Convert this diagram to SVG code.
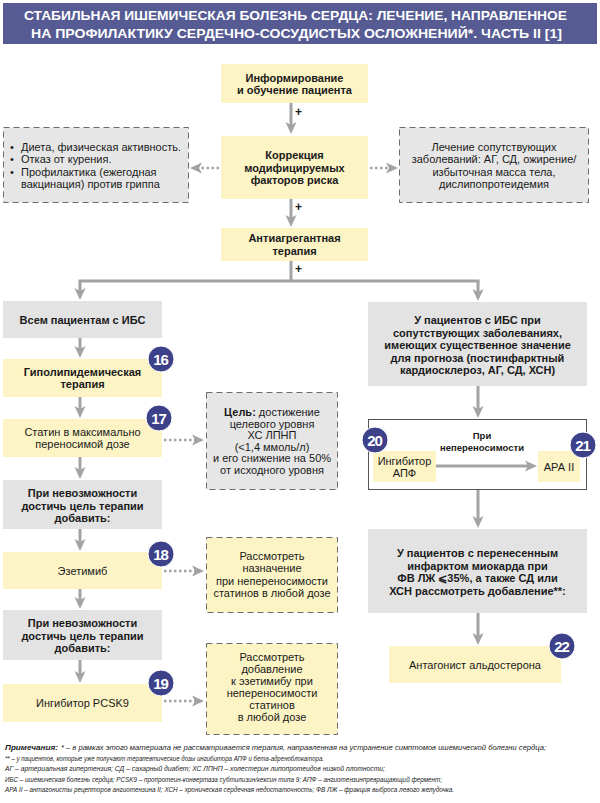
<svg xmlns="http://www.w3.org/2000/svg" width="600" height="803" viewBox="0 0 600 803">
<style>
text{font-family:"Liberation Sans",Arial,sans-serif;fill:#1a1a1a;}
.b{font-weight:bold;font-size:11px;text-anchor:middle;}
.r{font-size:11px;text-anchor:middle;}
.rl{font-size:11px;}
.y{fill:#fcf4c5;}
.g{fill:#e3e3e3;}
.dg{fill:#e6e6e6;stroke:#6b6b6b;stroke-width:1;stroke-dasharray:6 4;}
.dy{fill:#fcf4c5;stroke:#6b6b6b;stroke-width:1;stroke-dasharray:6 4;}
.ar{stroke:#a3a3a3;stroke-width:3;fill:none;marker-end:url(#ah);}
.ln{stroke:#a3a3a3;stroke-width:3;fill:none;}
.dt{stroke:#a3a3a3;stroke-width:2.5;fill:none;stroke-dasharray:2.5 2.5;marker-end:url(#ah);}
.pl{font-weight:bold;font-size:12px;}
.bc{fill:#3c418a;stroke:#ffffff;stroke-width:1;}
.bt{fill:#ffffff;font-weight:bold;font-size:15px;text-anchor:middle;letter-spacing:-1px;}
.n{font-size:8px;font-style:italic;}
</style>
<defs>
<marker id="ah" markerUnits="userSpaceOnUse" markerWidth="12" markerHeight="12" viewBox="0 0 12 12" refX="5" refY="6" orient="auto">
<path d="M0,0.5 L12,6 L0,11.5 L3,6 z" fill="#a3a3a3"/>
</marker>
</defs>
<g id="title">
<rect x="3" y="3" width="594" height="41" fill="#565b93"/>
<text x="295.5" y="20" font-size="13" font-weight="bold" text-anchor="middle" style="fill:#ffffff" textLength="543" lengthAdjust="spacingAndGlyphs">СТАБИЛЬНАЯ ИШЕМИЧЕСКАЯ БОЛЕЗНЬ СЕРДЦА: ЛЕЧЕНИЕ, НАПРАВЛЕННОЕ</text>
<text x="296.5" y="37.5" font-size="13" font-weight="bold" text-anchor="middle" style="fill:#ffffff" textLength="531" lengthAdjust="spacingAndGlyphs">НА ПРОФИЛАКТИКУ СЕРДЕЧНО-СОСУДИСТЫХ ОСЛОЖНЕНИЙ*. ЧАСТЬ II [1]</text>
</g>
<g id="n-frame">
<rect x="368.5" y="419.5" width="218" height="70" fill="#ffffff" stroke="#555555" stroke-width="1"/>
</g>
<g id="connectors">
<line class="ar" x1="291" y1="103" x2="291" y2="127"/>
<line class="ar" x1="291" y1="199" x2="291" y2="220"/>
<line class="ln" x1="291" y1="261" x2="291" y2="281"/>
<line class="ln" x1="78.5" y1="281" x2="479.5" y2="281"/>
<line class="ar" x1="80" y1="281" x2="80" y2="293"/>
<line class="ar" x1="478" y1="281" x2="478" y2="294"/>
<line class="ar" x1="80" y1="338" x2="80" y2="351"/>
<line class="ar" x1="80" y1="397" x2="80" y2="411"/>
<line class="ar" x1="80" y1="457" x2="80" y2="472"/>
<line class="ar" x1="80" y1="529" x2="80" y2="544"/>
<line class="ar" x1="80" y1="589" x2="80" y2="602"/>
<line class="ar" x1="80" y1="660" x2="80" y2="676"/>
<line class="ar" x1="478" y1="386" x2="478" y2="411"/>
<line class="ar" x1="478" y1="490" x2="478" y2="521"/>
<line class="ar" x1="478" y1="613" x2="478" y2="638"/>
<line class="ar" x1="436" y1="466" x2="530" y2="466"/>
<line class="dt" x1="219" y1="168" x2="197" y2="168"/>
<line class="dt" x1="370" y1="168" x2="391" y2="168"/>
<line class="dt" x1="164" y1="440" x2="197" y2="440"/>
<line class="dt" x1="164" y1="571" x2="197" y2="571"/>
<line class="dt" x1="164" y1="701" x2="197" y2="701"/>
<text class="pl" x="295" y="116">+</text>
<text class="pl" x="295" y="211">+</text>
<text class="pl" x="295" y="273">+</text>
<text x="482" y="438.5" font-size="9.5" font-weight="bold" text-anchor="middle">При</text>
<text x="482" y="450.5" font-size="9.5" font-weight="bold" text-anchor="middle">непереносимости</text>
</g>
<g id="n-inform">
<rect class="y" x="221" y="64" width="147" height="39"/>
<text class="b" x="294.5" y="81.5">Информирование</text>
<text class="b" x="294.5" y="94">и обучение пациента</text>
</g>
<g id="n-korr">
<rect class="y" x="221" y="136" width="147" height="63"/>
<text class="b" x="294.5" y="159">Коррекция</text>
<text class="b" x="294.5" y="171.5">модифицируемых</text>
<text class="b" x="294.5" y="184">факторов риска</text>
</g>
<g id="n-left-top">
<rect class="dg" x="3.5" y="127.5" width="185" height="75"/>
<text class="rl" x="10" y="151">•</text><text class="rl" x="21" y="151">Диета, физическая активность.</text>
<text class="rl" x="10" y="163.3">•</text><text class="rl" x="21" y="163.3">Отказ от курения.</text>
<text class="rl" x="10" y="175.6">•</text><text class="rl" x="21" y="175.6">Профилактика (ежегодная</text>
<text class="rl" x="21" y="188">вакцинация) против гриппа</text>
</g>
<g id="n-right-top">
<rect class="dg" x="399.5" y="127.5" width="189" height="75"/>
<text class="r" x="494" y="151">Лечение сопутствующих</text>
<text class="r" x="494" y="163.3">заболеваний: АГ, СД, ожирение/</text>
<text class="r" x="494" y="175.6">избыточная масса тела,</text>
<text class="r" x="494" y="188">дислипопротеидемия</text>
</g>
<g id="n-antiagr">
<rect class="y" x="221" y="228" width="147" height="33"/>
<text class="b" x="294.5" y="242">Антиагрегантная</text>
<text class="b" x="294.5" y="254.5">терапия</text>
</g>
<g id="n-all">
<rect class="g" x="3" y="301" width="159" height="37"/>
<text class="b" x="82.5" y="323.5">Всем пациентам с ИБС</text>
</g>
<g id="n-hypo">
<rect class="y" x="3" y="359" width="159" height="38"/>
<text class="b" x="82.5" y="375.5">Гиполипидемическая</text>
<text class="b" x="82.5" y="388">терапия</text>
</g>
<g id="n-statin">
<rect class="y" x="3" y="419" width="159" height="38"/>
<text class="r" x="82.5" y="436">Статин в максимально</text>
<text class="r" x="82.5" y="448">переносимой дозе</text>
</g>
<g id="n-goal">
<rect class="dg" x="206.5" y="392.5" width="131" height="97"/>
<text class="r" x="272" y="416"><tspan font-weight="bold">Цель:</tspan> достижение</text>
<text class="r" x="272" y="427.5">целевого уровня</text>
<text class="r" x="272" y="439">ХС ЛПНП</text>
<text class="r" x="272" y="450.5">(&lt;1,4 ммоль/л)</text>
<text class="r" x="272" y="462">и его снижение на 50%</text>
<text class="r" x="272" y="473.5">от исходного уровня</text>
</g>
<g id="n-cannot1">
<rect class="g" x="3" y="480" width="159" height="49"/>
<text class="b" x="82.5" y="497">При невозможности</text>
<text class="b" x="82.5" y="509.5">достичь цель терапии</text>
<text class="b" x="82.5" y="522">добавить:</text>
</g>
<g id="n-ezet">
<rect class="y" x="3" y="552" width="159" height="37"/>
<text class="r" x="82.5" y="574.5">Эзетимиб</text>
</g>
<g id="n-consider1">
<rect class="dy" x="206.5" y="537.5" width="131" height="75"/>
<text class="r" x="272" y="560">Рассмотреть</text>
<text class="r" x="272" y="572.3">назначение</text>
<text class="r" x="272" y="584.6">при непереносимости</text>
<text class="r" x="272" y="597">статинов в любой дозе</text>
</g>
<g id="n-cannot2">
<rect class="g" x="3" y="610" width="159" height="50"/>
<text class="b" x="82.5" y="627">При невозможности</text>
<text class="b" x="82.5" y="639.5">достичь цель терапии</text>
<text class="b" x="82.5" y="652">добавить:</text>
</g>
<g id="n-pcsk9">
<rect class="y" x="3" y="684" width="159" height="38"/>
<text class="r" x="82.5" y="707">Ингибитор PCSK9</text>
</g>
<g id="n-consider2">
<rect class="dy" x="206.5" y="643.5" width="131" height="91"/>
<text class="r" x="272" y="661">Рассмотреть</text>
<text class="r" x="272" y="673">добавление</text>
<text class="r" x="272" y="685">к эзетимибу при</text>
<text class="r" x="272" y="697">непереносимости</text>
<text class="r" x="272" y="709">статинов</text>
<text class="r" x="272" y="721">в любой дозе</text>
</g>
<g id="n-comorb">
<rect class="g" x="368" y="302" width="219" height="84"/>
<text class="b" x="477.5" y="324">У пациентов с ИБС при</text>
<text class="b" x="477.5" y="336.5">сопутствующих заболеваниях,</text>
<text class="b" x="477.5" y="349">имеющих существенное значение</text>
<text class="b" x="477.5" y="361.5">для прогноза (постинфарктный</text>
<text class="b" x="477.5" y="374">кардиосклероз, АГ, СД, ХСН)</text>
</g>
<g id="n-apf">
<rect class="y" x="373" y="451" width="63" height="31"/>
<text class="r" x="404.5" y="464.5">Ингибитор</text>
<text class="r" x="404.5" y="476.5">АПФ</text>
</g>
<g id="n-ara">
<rect class="y" x="538" y="451" width="42" height="31"/>
<text class="r" x="559" y="470.5">АРА II</text>
</g>
<g id="n-mi">
<rect class="g" x="368" y="529" width="219" height="84"/>
<text class="b" x="477.5" y="557">У пациентов с перенесенным</text>
<text class="b" x="477.5" y="569.5">инфарктом миокарда при</text>
<text class="b" x="477.5" y="582">ФВ ЛЖ ⩽35%, а также СД или</text>
<text class="b" x="477.5" y="594.5">ХСН рассмотреть добавление**:</text>
</g>
<g id="n-aldo">
<rect class="y" x="389" y="646" width="172" height="37"/>
<text class="r" x="475" y="668.5">Антагонист альдостерона</text>
</g>
<g id="badge-16"><circle class="bc" cx="161" cy="359" r="13"/><text class="bt" x="160.5" y="364.5">16</text></g>
<g id="badge-17"><circle class="bc" cx="159" cy="418" r="13"/><text class="bt" x="158.5" y="423.5">17</text></g>
<g id="badge-18"><circle class="bc" cx="161" cy="554" r="13"/><text class="bt" x="160.5" y="559.5">18</text></g>
<g id="badge-19"><circle class="bc" cx="161" cy="683" r="13"/><text class="bt" x="160.5" y="688.5">19</text></g>
<g id="badge-20"><circle class="bc" cx="375" cy="440" r="13"/><text class="bt" x="374.5" y="445.5">20</text></g>
<g id="badge-21"><circle class="bc" cx="583" cy="445" r="13"/><text class="bt" x="582.5" y="450.5">21</text></g>
<g id="badge-22"><circle class="bc" cx="562" cy="646" r="13"/><text class="bt" x="561.5" y="651.5">22</text></g>
<g id="notes">
<text class="n" x="5" y="750" font-weight="bold" textLength="53" lengthAdjust="spacingAndGlyphs">Примечания:</text>
<text class="n" x="61" y="750" textLength="485" lengthAdjust="spacingAndGlyphs">* – в рамках этого материала не рассматривается терапия, направленная на устранение симптомов ишемической болезни сердца;</text>
<text class="n" x="5" y="760.5" textLength="319" lengthAdjust="spacingAndGlyphs">** – у пациентов, которые уже получают терапевтические дозы ингибитора АПФ и бета-адреноблокатора.</text>
<text class="n" x="5" y="771" textLength="380" lengthAdjust="spacingAndGlyphs">АГ – артериальная гипертензия; СД – сахарный диабет; ХС ЛПНП – холестерин липопротеидов низкой плотности;</text>
<text class="n" x="5" y="781.5" textLength="437" lengthAdjust="spacingAndGlyphs">ИБС – ишемическая болезнь сердца; PCSK9 – пропротеин-конвертаза субтилизин/кексин типа 9; АПФ – ангиотензинпревращающий фермент;</text>
<text class="n" x="5" y="792" textLength="449" lengthAdjust="spacingAndGlyphs">АРА II – антагонисты рецепторов ангиотензина II; ХСН – хроническая сердечная недостаточность; ФВ ЛЖ – фракция выброса левого желудочка.</text>
</g>
</svg>
